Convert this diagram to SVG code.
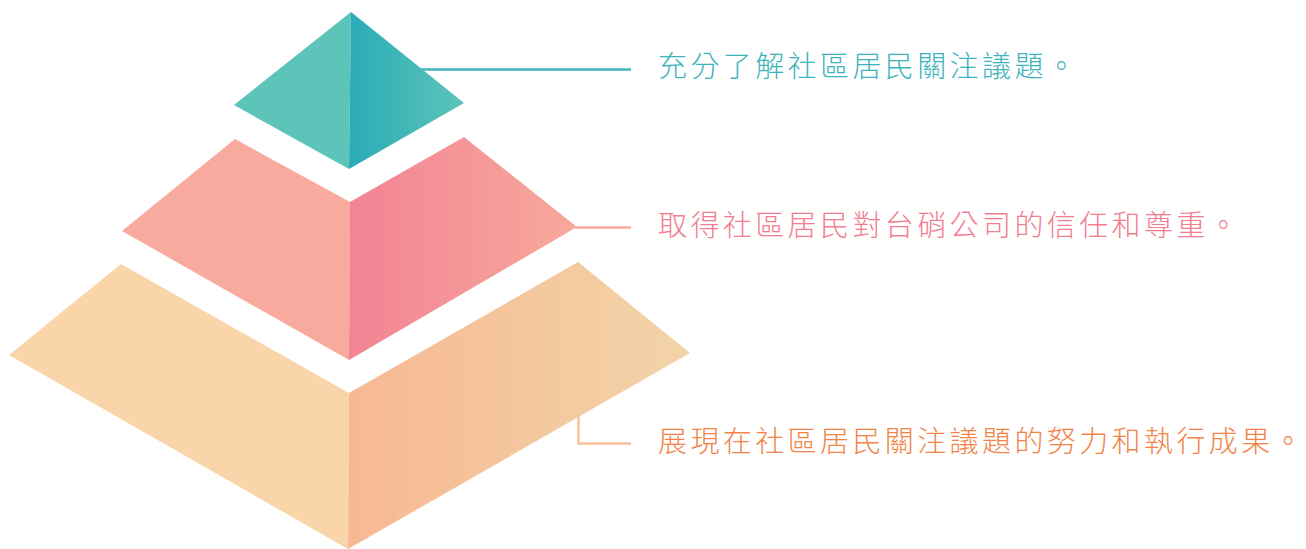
<svg xmlns="http://www.w3.org/2000/svg" width="1306" height="549" viewBox="0 0 1306 549">
<defs>
<linearGradient id="gTop" x1="0" y1="0" x2="1" y2="0"><stop offset="0" stop-color="#2aabb7"/><stop offset="1" stop-color="#5dc4b9"/></linearGradient>
<linearGradient id="gMid" x1="0" y1="0" x2="1" y2="0"><stop offset="0" stop-color="#f28394"/><stop offset="1" stop-color="#f7a99b"/></linearGradient>
<linearGradient id="gBot" x1="0" y1="0" x2="1" y2="0"><stop offset="0" stop-color="#f7b893"/><stop offset="1" stop-color="#f2d4a8"/></linearGradient>
<style>
.lbl{font-family:"Noto Sans CJK TC","Noto Sans CJK SC",sans-serif;font-size:29px;font-weight:300;letter-spacing:3.4px}
.con{fill:none;stroke-width:2.5}
</style>
</defs>
<g id="connectors">
<line class="con" x1="420" y1="69.5" x2="631" y2="69.5" stroke="#3fb6bd"/>
<line class="con" x1="575" y1="227.5" x2="631" y2="227.5" stroke="#f7a99b"/>
<polyline class="con" points="578.5,410 578.5,443.5 631,443.5" stroke="#f8c19b"/>
</g>
<g id="tier-top">
<polygon points="351,12 234,105 349,169" fill="#5dc4b9"/>
<polygon points="351,12 464,103 349,169" fill="url(#gTop)"/>
</g>
<g id="tier-middle">
<polygon points="235,139 122,231 349,360 350,202" fill="#f7aa9d"/>
<polygon points="464,137 577,227 349,360 350,202" fill="url(#gMid)"/>
</g>
<g id="tier-bottom">
<polygon points="121,264 9,355 348,549 349,393" fill="#f9d5a9"/>
<polygon points="578,262 690,353 348,549 349,393" fill="url(#gBot)"/>
</g>
<g id="label-top"><text class="lbl" x="658" y="77" fill="#3db4bd">充分了解社區居民關注議題。</text></g>
<g id="label-middle"><text class="lbl" x="658" y="236" fill="#f17d8f">取得社區居民對台硝公司的信任和尊重。</text></g>
<g id="label-bottom"><text class="lbl" x="658" y="452" fill="#f28447">展現在社區居民關注議題的努力和執行成果。</text></g>
</svg>
